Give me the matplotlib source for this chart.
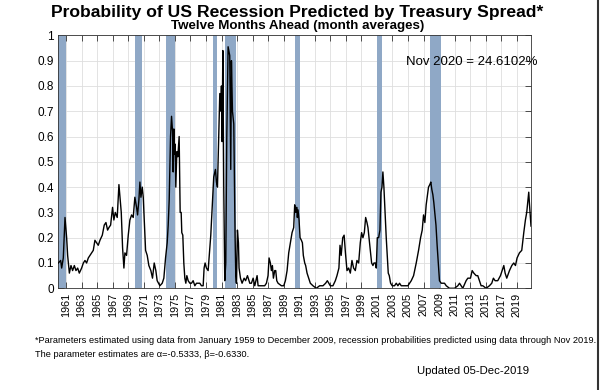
import matplotlib
matplotlib.use("Agg")
import matplotlib.pyplot as plt
from matplotlib.lines import Line2D

plt.rcParams["font.family"] = ["Liberation Sans", "DejaVu Sans"]

# decimal year of each reading, and the probability
months = [
    1960.00, 1960.30, 1960.43, 1960.64, 1960.86, 1961.07, 1961.20, 1961.42, 1961.63, 1961.84,
    1962.06, 1962.27, 1962.49, 1962.70, 1963.00, 1963.22, 1963.43, 1963.64, 1963.86, 1964.07,
    1964.29, 1964.50, 1964.71, 1964.93, 1965.14, 1965.36, 1965.66, 1965.91, 1966.13, 1966.34,
    1966.51, 1966.73, 1966.98, 1967.15, 1967.33, 1967.58, 1967.80, 1967.97, 1968.10, 1968.27,
    1968.44, 1968.57, 1968.78, 1969.00, 1969.21, 1969.43, 1969.64, 1969.85, 1970.07, 1970.20,
    1970.37, 1970.50, 1970.63, 1970.80, 1970.93, 1971.06, 1971.23, 1971.44, 1971.65, 1971.91,
    1972.12, 1972.34, 1972.55, 1972.72, 1973.07, 1973.37, 1973.58, 1973.80, 1974.01, 1974.14,
    1974.27, 1974.44, 1974.57, 1974.70, 1974.78, 1974.87, 1974.95, 1975.04, 1975.12, 1975.25,
    1975.38, 1975.55, 1975.68, 1975.81, 1975.89, 1976.02, 1976.15, 1976.28, 1976.41, 1976.54,
    1976.71, 1976.93, 1977.14, 1977.35, 1977.57, 1977.78, 1978.21, 1978.42, 1978.64, 1978.76,
    1978.89, 1979.06, 1979.28, 1979.49, 1979.62, 1979.79, 1980.00, 1980.22, 1980.35, 1980.48,
    1980.56, 1980.69, 1980.78, 1980.91, 1980.99, 1981.08, 1981.17, 1981.29, 1981.42, 1981.55,
    1981.68, 1981.85, 1982.06, 1982.19, 1982.28, 1982.41, 1982.58, 1982.75, 1982.84, 1982.92,
    1983.05, 1983.18, 1983.26, 1983.44, 1983.65, 1983.91, 1984.10, 1984.34, 1984.64, 1984.85,
    1985.07, 1985.28, 1985.58, 1985.71, 1986.13, 1986.56, 1986.78, 1986.99, 1987.12, 1987.29,
    1987.42, 1987.55, 1987.68, 1987.85, 1987.98, 1988.11, 1988.28, 1988.71, 1989.01, 1989.22,
    1989.44, 1989.65, 1989.86, 1990.08, 1990.29, 1990.42, 1990.55, 1990.68, 1990.76, 1990.85,
    1990.98, 1991.11, 1991.28, 1991.41, 1991.53, 1991.71, 1991.83, 1992.01, 1992.22, 1992.43,
    1992.77, 1993.20, 1993.63, 1994.06, 1994.40, 1994.62, 1995.00, 1995.34, 1995.65, 1995.86,
    1996.11, 1996.25, 1996.40, 1996.60, 1996.78, 1996.95, 1997.15, 1997.36, 1997.58, 1997.79,
    1998.00, 1998.22, 1998.43, 1998.65, 1998.86, 1999.03, 1999.20, 1999.38, 1999.55, 1999.72,
    1999.85, 1999.98, 2000.15, 2000.32, 2000.49, 2000.62, 2000.79, 2000.92, 2001.05, 2001.22,
    2001.39, 2001.52, 2001.65, 2001.77, 2001.90, 2002.08, 2002.20, 2002.33, 2002.46, 2002.59,
    2002.76, 2002.97, 2003.27, 2003.49, 2003.70, 2003.91, 2004.13, 2004.56, 2004.99, 2005.20,
    2005.42, 2005.72, 2006.06, 2006.36, 2006.62, 2006.83, 2007.00, 2007.17, 2007.34, 2007.47,
    2007.64, 2007.81, 2007.94, 2008.07, 2008.20, 2008.32, 2008.45, 2008.60, 2008.75, 2008.90,
    2009.05, 2009.27, 2009.70, 2009.92, 2010.34, 2010.99, 2011.41, 2011.63, 2012.05, 2012.48,
    2012.70, 2013.04, 2013.26, 2013.47, 2013.77, 2013.98, 2014.20, 2014.41, 2014.63, 2015.05,
    2015.48, 2015.78, 2015.99, 2016.21, 2016.55, 2016.90, 2017.11, 2017.33, 2017.50, 2017.71,
    2018.06, 2018.36, 2018.61, 2018.83, 2019.04, 2019.34, 2019.64, 2019.90, 2020.11, 2020.28,
    2020.54, 2020.64, 2020.83,
]
prob = [
    0.10, 0.11, 0.08, 0.12, 0.28, 0.20, 0.13, 0.06, 0.09, 0.07,
    0.09, 0.07, 0.08, 0.06, 0.08, 0.10, 0.11, 0.10, 0.12, 0.13,
    0.14, 0.15, 0.19, 0.18, 0.17, 0.19, 0.21, 0.25, 0.26, 0.23,
    0.24, 0.25, 0.32, 0.27, 0.30, 0.28, 0.41, 0.35, 0.30, 0.16,
    0.08, 0.14, 0.13, 0.21, 0.27, 0.29, 0.28, 0.36, 0.32, 0.29,
    0.35, 0.42, 0.36, 0.40, 0.36, 0.27, 0.15, 0.13, 0.09, 0.07,
    0.04, 0.10, 0.07, 0.03, 0.01, 0.02, 0.04, 0.12, 0.18, 0.25,
    0.35, 0.60, 0.68, 0.62, 0.46, 0.63, 0.53, 0.57, 0.40, 0.54,
    0.52, 0.60, 0.30, 0.30, 0.22, 0.21, 0.10, 0.04, 0.02, 0.05,
    0.03, 0.02, 0.02, 0.03, 0.01, 0.02, 0.02, 0.01, 0.01, 0.08,
    0.10, 0.08, 0.07, 0.16, 0.21, 0.31, 0.44, 0.47, 0.42, 0.40,
    0.50, 0.67, 0.77, 0.70, 0.80, 0.58, 0.94, 0.40, 0.03, 0.10,
    0.60, 0.955, 0.92, 0.47, 0.90, 0.70, 0.65, 0.20, 0.05, 0.02,
    0.23, 0.18, 0.08, 0.04, 0.02, 0.04, 0.03, 0.05, 0.02, 0.02,
    0.04, 0.01, 0.05, 0.01, 0.01, 0.01, 0.02, 0.05, 0.12, 0.10,
    0.07, 0.09, 0.04, 0.07, 0.07, 0.03, 0.02, 0.01, 0.01, 0.03,
    0.07, 0.14, 0.18, 0.22, 0.24, 0.33, 0.30, 0.32, 0.28, 0.31,
    0.27, 0.20, 0.19, 0.18, 0.13, 0.10, 0.09, 0.06, 0.04, 0.02,
    0.01, 0.00, 0.01, 0.01, 0.02, 0.03, 0.01, 0.01, 0.03, 0.05,
    0.08, 0.17, 0.13, 0.20, 0.21, 0.14, 0.07, 0.08, 0.06, 0.11,
    0.08, 0.07, 0.11, 0.10, 0.18, 0.22, 0.20, 0.22, 0.28, 0.26,
    0.24, 0.20, 0.15, 0.10, 0.09, 0.10, 0.10, 0.08, 0.20, 0.20,
    0.23, 0.38, 0.40, 0.46, 0.40, 0.28, 0.20, 0.13, 0.06, 0.05,
    0.02, 0.01, 0.01, 0.02, 0.01, 0.02, 0.01, 0.01, 0.01, 0.02,
    0.03, 0.05, 0.10, 0.15, 0.20, 0.23, 0.29, 0.26, 0.33, 0.36,
    0.40, 0.41, 0.42, 0.39, 0.37, 0.34, 0.30, 0.25, 0.17, 0.10,
    0.03, 0.02, 0.02, 0.01, 0.00, 0.00, 0.01, 0.02, 0.00, 0.03,
    0.04, 0.04, 0.07, 0.06, 0.05, 0.05, 0.03, 0.01, 0.01, 0.00,
    0.01, 0.02, 0.04, 0.03, 0.03, 0.05, 0.07, 0.09, 0.06, 0.04,
    0.07, 0.09, 0.10, 0.09, 0.12, 0.14, 0.15, 0.22, 0.27, 0.30,
    0.38, 0.33, 0.246,
]

# recession shading, as drawn on the chart
rec_start = [1960.00, 1969.90, 1973.80, 1979.95, 1981.45, 1990.45, 2000.95, 2007.88]
rec_end = [1961.05, 1970.80, 1975.05, 1980.40, 1982.85, 1991.10, 2001.70, 2009.25]

year_ticks = list(range(1961, 2020, 2))
prob_ticks = [0, 0.1, 0.2, 0.3, 0.4, 0.5, 0.6, 0.7, 0.8, 0.9, 1]
prob_labels = ["0", "0.1", "0.2", "0.3", "0.4", "0.5", "0.6", "0.7", "0.8", "0.9", "1"]
latest_label = "Nov 2020 = 24.6102%"

fig = plt.figure(figsize=(6, 3.9), dpi=100)
ax = fig.add_axes([0.0972, 0.2608, 0.7878, 0.6485])

ax.grid(color="#dedede", lw=0.6)
ax.set_axisbelow(True)
for s, e in zip(rec_start, rec_end):
    ax.axvspan(s, e, color="#8fa8c6", lw=0, zorder=1)
ax.plot(months, prob, color="black", lw=1.0, zorder=3)

ax.set_xlim(1960.0, 2020.83)
ax.set_ylim(0, 1)
ax.set_xticks(year_ticks)
ax.set_xticklabels([str(y) for y in year_ticks], rotation=90)
ax.set_yticks(prob_ticks)
ax.set_yticklabels(prob_labels)
ax.tick_params(direction="in", top=True, right=True, length=4, width=0.6,
               color="#333333", pad=3)
ax.tick_params(axis="x", labelsize=7.8)
ax.tick_params(axis="y", labelsize=8.5)
for sp in ax.spines.values():
    sp.set_color("#333333")
    sp.set_linewidth(0.6)

ax.text(2004.7, 0.895, latest_label, fontsize=9.5, va="center", ha="left", zorder=4)

fig.text(0.496, 0.969, "Probability of US Recession Predicted by Treasury Spread*",
         ha="center", va="center", fontsize=12.6, fontweight="bold")
fig.text(0.496, 0.933, "Twelve Months Ahead (month averages)",
         ha="center", va="center", fontsize=9.6, fontweight="bold")

fig.text(0.058, 0.126, "*Parameters estimated using data from January 1959 to December 2009, "
         "recession probabilities predicted using data through Nov 2019.",
         ha="left", va="center", fontsize=6.65)
fig.text(0.058, 0.090, "The parameter estimates are \u03b1=-0.5333, \u03b2=-0.6330.",
         ha="left", va="center", fontsize=6.65)
fig.text(0.695, 0.049, "Updated 05-Dec-2019", ha="left", va="center", fontsize=8.2)

fig.add_artist(Line2D([0.997, 0.997], [0, 1], transform=fig.transFigure,
                      color="#333333", lw=1.5))

fig.savefig("out.png", dpi=100)
